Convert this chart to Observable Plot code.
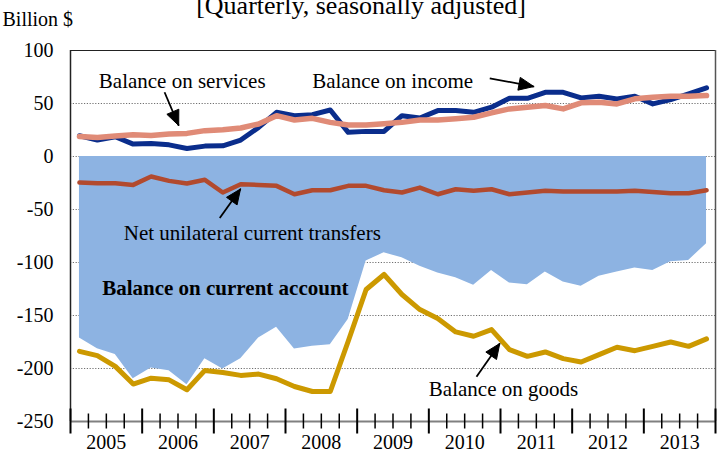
<!DOCTYPE html>
<html>
<head>
<meta charset="utf-8">
<script src="https://cdn.jsdelivr.net/npm/d3@7"></script>
<script src="https://cdn.jsdelivr.net/npm/@observablehq/plot@0.6"></script>
<style>
  html, body { margin: 0; padding: 0; background: white; }
  #chart svg, #chart svg text { font-family: "Liberation Serif", "Times New Roman", "DejaVu Serif", serif !important; }
</style>
</head>
<body>
<div id="chart"></div>
<script>
// ---- Data (billion $, quarterly, 2005Q1 .. 2013Q4) ----
const years = [2005, 2006, 2007, 2008, 2009, 2010, 2011, 2012, 2013];
const quarters = years.flatMap(y => [1, 2, 3, 4].map(q => `${y}Q${q}`));

const balanceIncome = [19.6, 15.5, 18.6, 11.7, 12.3, 11.0, 7.6, 9.8, 10.1, 15.5, 27.5, 41.7,
  38.5, 39.5, 43.9, 22.8, 23.7, 23.7, 38.5, 36.3, 43.3, 43.3, 41.7, 46.5,
  54.9, 54.9, 60.6, 60.6, 55.3, 56.8, 54.3, 56.8, 49.6, 53.7, 59.0, 64.7];

const balanceServices = [18.9, 18.0, 19.3, 20.6, 19.9, 21.2, 21.8, 24.4, 25.3, 26.9, 30.7, 38.5,
  34.4, 36.0, 32.2, 29.7, 29.7, 31.0, 32.2, 34.4, 34.4, 35.7, 37.0, 41.1,
  44.9, 46.5, 48.1, 44.9, 50.6, 51.2, 49.6, 54.4, 55.9, 56.8, 56.8, 57.5];

const netTransfers = [-24.6, -25.2, -25.2, -26.8, -18.9, -23.0, -25.5, -22.0, -34.0, -26.1, -26.8, -27.7,
  -35.6, -31.8, -31.8, -27.7, -27.7, -31.8, -34.0, -29.3, -35.6, -30.9, -32.4, -30.9,
  -35.6, -34.0, -32.4, -33.1, -33.1, -33.1, -33.1, -32.4, -33.4, -34.6, -34.6, -31.8];

const balanceGoods = [-183.8, -187.9, -198.0, -214.7, -209.1, -210.7, -220.1, -201.8, -203.7, -206.5, -205.3, -209.7,
  -217.0, -221.7, -221.7, -174.3, -125.5, -111.3, -130.2, -144.4, -152.9, -165.5, -169.6, -163.3,
  -182.2, -188.5, -184.4, -190.7, -193.9, -186.9, -180.0, -183.2, -179.1, -175.0, -179.1, -172.1];

const currentAccount = [-171.2, -181.3, -186.9, -209.7, -199.6, -202.1, -215.4, -190.7, -200.5, -190.7, -171.2, -161.1,
  -181.6, -179.1, -177.5, -153.8, -98.7, -90.8, -95.6, -103.5, -109.8, -114.5, -121.5, -107.6,
  -119.3, -120.9, -108.9, -118.3, -122.4, -113.0, -108.9, -105.1, -107.6, -99.4, -98.1, -82.3];

const yTicks = [100, 50, 0, -50, -100, -150, -200, -250];
const gridValues = [50, 0, -50, -100, -150, -200];

// Annotation labels (left edge / baseline in quarter index and billion $)
const labelTexts = ["Balance on services", "Balance on income", "Net unilateral current transfers",
  "Balance on current account", "Balance on goods"];
const labelX = [1.08, 12.99, 2.47, 1.27, 19.5];
const labelY = [64.8, 64.8, -78.7, -130.7, -225.7];
const labelBold = [false, false, false, true, false];

// Arrows: tail (x1,y1) -> tip (x2,y2)
const arrowX1 = [4.75, 22.9, 7.83, 22.16];
const arrowY1 = [60.6, 73.8, -58.0, -207.8];
const arrowX2 = [5.54, 25.36, 8.99, 23.46];
const arrowY2 = [29.2, 66.0, -30.6, -176.4];

// ---- Layout ----
const W = 721, H = 456;
const mL = 70, mR = 6, mT = 50, mB = 35;
const xDomain = [-0.5, quarters.length - 0.5];
const yDomain = [-250, 100];
const FONT = "Liberation Serif";

const colors = {
  area: "#8db3e2",
  income: "#0a2d8c",
  services: "#e08b77",
  transfers: "#b24a2e",
  goods: "#cc9900"
};

const series = (arr) => arr.map((v, i) => ({i, q: quarters[i], v}));

const xs = Plot.scale({x: {domain: xDomain, range: [mL, W - mR]}});
const ys = Plot.scale({y: {domain: yDomain, range: [H - mB, mT]}});

const arrows = arrowX1.map((_, k) => ({k, x1: arrowX1[k], y1: arrowY1[k], x2: arrowX2[k], y2: arrowY2[k]}));
const headPts = [];
const HL = 15, HW = 6.5;
for (const a of arrows) {
  const tx = xs.apply(a.x1), ty = ys.apply(a.y1);
  const px = xs.apply(a.x2), py = ys.apply(a.y2);
  const dx = px - tx, dy = py - ty, len = Math.hypot(dx, dy);
  const ux = dx / len, uy = dy / len, nx = -uy, ny = ux;
  const bx = px - ux * HL, by = py - uy * HL;
  const pts = [[px, py], [bx + nx * HW, by + ny * HW], [bx - nx * HW, by - ny * HW], [px, py]];
  for (const [X, Y] of pts) headPts.push({k: a.k, x: xs.invert(X), y: ys.invert(Y)});
}

const boundaries = d3.range(quarters.length + 1).map(k => ({b: k - 0.5, major: k % 4 === 0}));
const labels = labelTexts.map((t, k) => ({t, x: labelX[k], y: labelY[k], bold: labelBold[k]}));
const labelOpts = {x: "x", y: "y", text: "t", textAnchor: "start", lineAnchor: "bottom", fontSize: 21, fontFamily: FONT, fill: "black"};

const chart = Plot.plot({
  width: W,
  height: H,
  marginLeft: mL,
  marginRight: mR,
  marginTop: mT,
  marginBottom: mB,
  x: {domain: xDomain, axis: null},
  y: {domain: yDomain, axis: null},
  style: {fontFamily: FONT, background: "white", color: "black"},
  marks: [
    Plot.ruleY(gridValues, {stroke: "#707070", strokeWidth: 1, strokeDasharray: "1.2,1.6"}),
    Plot.areaY(series(currentAccount), {x: "i", y: "v", fill: colors.area, curve: "linear"}),
    Plot.ruleY([yDomain[1]], {stroke: "#222", strokeWidth: 1.2}),
    Plot.ruleX([xDomain[0]], {stroke: "#222", strokeWidth: 1.5}),
    Plot.ruleX([xDomain[1]], {stroke: "#555", strokeWidth: 1.5}),
    Plot.ruleY([yDomain[0]], {stroke: "#808080", strokeWidth: 2}),
    Plot.ruleX(boundaries.filter(d => !d.major), {x: "b", y1: yDomain[0], y2: yDomain[0], insetTop: -7.5, insetBottom: -7.5, stroke: "black", strokeWidth: 1.5}),
    Plot.ruleX(boundaries.filter(d => d.major), {x: "b", y1: yDomain[0], y2: yDomain[0], insetTop: -12.5, insetBottom: -12.5, stroke: "black", strokeWidth: 2}),
    Plot.line(series(balanceIncome), {x: "i", y: "v", stroke: colors.income, strokeWidth: 5}),
    Plot.line(series(balanceServices), {x: "i", y: "v", stroke: colors.services, strokeWidth: 5.5}),
    Plot.line(series(netTransfers), {x: "i", y: "v", stroke: colors.transfers, strokeWidth: 4.5}),
    Plot.line(series(balanceGoods), {x: "i", y: "v", stroke: colors.goods, strokeWidth: 5}),
    Plot.text(yTicks, {x: xDomain[0], y: d => d, text: d => String(d), textAnchor: "end", dx: -17, fontSize: 20, fontFamily: FONT, fill: "black"}),
    Plot.text(years, {x: (d, k) => k * 4 + 1.5, frameAnchor: "bottom", text: d => String(d), lineAnchor: "bottom", dy: 27, fontSize: 20, fontFamily: FONT, fill: "black"}),
    Plot.text(["Billion $"], {frameAnchor: "top-left", textAnchor: "start", lineAnchor: "bottom", dx: -68, dy: -25, fontSize: 20, fontFamily: FONT, fill: "black"}),
    Plot.text(["[Quarterly, seasonally adjusted]"], {frameAnchor: "top", lineAnchor: "bottom", dx: -32, dy: -37, fontSize: 26, fontFamily: FONT, fill: "black"}),
    Plot.text(labels.filter(d => !d.bold), {...labelOpts, fontWeight: "normal"}),
    Plot.text(labels.filter(d => d.bold), {...labelOpts, fontWeight: "bold"}),
    Plot.link(arrows, {x1: "x1", y1: "y1", x2: "x2", y2: "y2", stroke: "black", strokeWidth: 1.8}),
    Plot.line(headPts, {x: "x", y: "y", z: "k", fill: "black", stroke: "black", strokeWidth: 1})
  ]
});

document.getElementById("chart").appendChild(chart);
</script>
</body>
</html>
